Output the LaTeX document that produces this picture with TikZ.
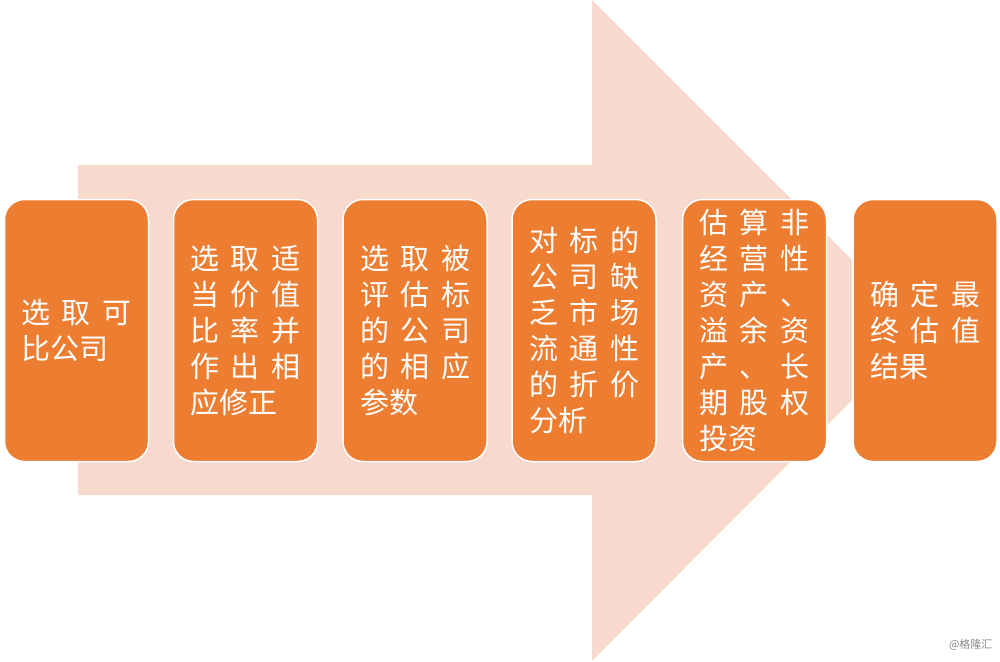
\documentclass[tikz,border=0pt]{standalone}
\usepackage{fontspec}
\newfontfamily\cjk{Noto Sans CJK SC}
\definecolor{arrowfill}{HTML}{F8D9CE}
\definecolor{boxorange}{HTML}{ED7D31}
\newcommand{\tlrow}[3]{\makebox[110pt][l]{#1\hfill #2\hfill #3}}
\newcommand{\lastrow}[1]{\makebox[110pt][l]{#1}}
\begin{document}
\begin{tikzpicture}[x=1pt,y=-1pt,
  stepbox/.style={draw=white, line width=1.5pt, fill=boxorange, rounded corners=20pt,
    minimum width=144pt, minimum height=262pt, inner sep=0pt, text=white,
    align=left, font=\cjk\fontsize{29}{36}\selectfont}]
\useasboundingbox (0,0) rectangle (1000,661);
\fill[white] (0,0) rectangle (1000,661);
% big background arrow
\fill[arrowfill] (78,165) -- (592,165) -- (592,0) -- (922,330) -- (592,661) -- (592,495) -- (78,495) -- cycle;
% steps
\node[stepbox] (s1) at (76.5,330.5) {\tlrow{选}{取}{可}\\\lastrow{比公司}};
\node[stepbox] (s2) at (245.5,330.5) {\tlrow{选}{取}{适}\\\tlrow{当}{价}{值}\\\tlrow{比}{率}{并}\\\tlrow{作}{出}{相}\\\lastrow{应修正}};
\node[stepbox] (s3) at (415,330.5) {\tlrow{选}{取}{被}\\\tlrow{评}{估}{标}\\\tlrow{的}{公}{司}\\\tlrow{的}{相}{应}\\\lastrow{参数}};
\node[stepbox] (s4) at (584,330.5) {\tlrow{对}{标}{的}\\\tlrow{公}{司}{缺}\\\tlrow{乏}{市}{场}\\\tlrow{流}{通}{性}\\\tlrow{的}{折}{价}\\\lastrow{分析}};
\node[stepbox] (s5) at (754.5,330.5) {\tlrow{估}{算}{非}\\\tlrow{经}{营}{性}\\\tlrow{资}{产}{、}\\\tlrow{溢}{余}{资}\\\tlrow{产}{、}{长}\\\tlrow{期}{股}{权}\\\lastrow{投资}};
\node[stepbox] (s6) at (925,330.5) {\tlrow{确}{定}{最}\\\tlrow{终}{估}{值}\\\lastrow{结果}};
% watermark
\node[text=black!45, font=\cjk\fontsize{11}{13}\selectfont, anchor=east] (wm) at (996,645) {@格隆汇};
\end{tikzpicture}
\end{document}
